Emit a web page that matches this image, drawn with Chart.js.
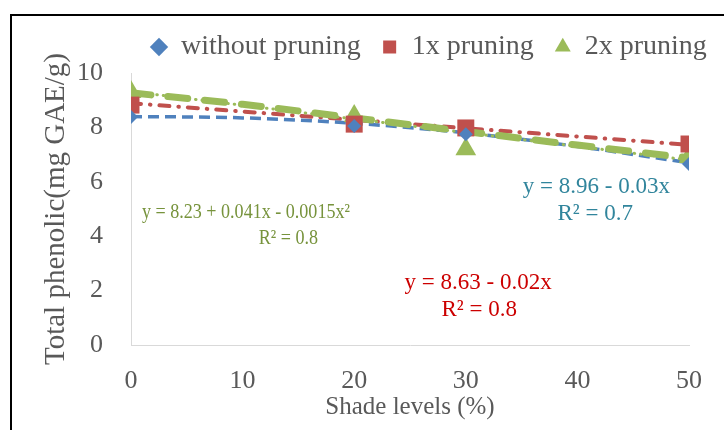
<!DOCTYPE html>
<html>
<head>
<meta charset="utf-8">
<script src="https://cdn.jsdelivr.net/npm/chart.js@4/dist/chart.umd.min.js"></script>
<style>
  html, body { margin: 0; padding: 0; background: #fff; }
  #wrap { width: 724px; height: 430px; position: relative; }
</style>
</head>
<body>
<div id="wrap"><canvas id="chart"></canvas></div>
<script>
// shade levels (%) where samples were measured
const shadeLevels = [0, 20, 30, 50];
// total phenolic (mg GAE/g)
const withoutPruning = [8.38, 8.05, 7.75, 6.65];
const pruning1x = [8.82, 8.12, 7.98, 7.39];
const pruning2x = [9.3, 8.42, 7.2, 6.91];

// trend lines
const trendX = [0, 10, 20, 30, 40, 50];
const trendWithout = [8.4, 8.35, 8.15, 7.8, 7.3, 6.7];
const trend2xPoly = [9.27, 8.85, 8.35, 7.85, 7.35, 6.88];
const trendEnds = [0, 50];
const trend1x = [8.89, 7.36];
const trend2xLinear = [9.32, 6.8];

const xTicks = [0, 10, 20, 30, 40, 50];
const yTicks = [0, 2, 4, 6, 8, 10];

const eqGreen = ["y = 8.23 + 0.041x - 0.0015x²", "R² = 0.8"];
const eqTeal = ["y = 8.96 - 0.03x", "R² = 0.7"];
const eqRed = ["y = 8.63 - 0.02x", "R² = 0.8"];

(function () {
  "use strict";

  const SERIF = '"Liberation Serif", "Times New Roman", serif';
  const TEXT = "#595959";
  const BLUE = "#4F81BD", RED = "#C0504D", GREEN = "#9BBB59";

  function pts(xs, ys) {
    return xs.map((x, i) => ({ x, y: ys[i] }));
  }

  // equation labels, anchored in data space (x, y of each line's centre)
  const equations = [
    { lines: eqGreen, color: "#77933C", size: 21, squeeze: 0.86, at: [[10.3, 4.89], [14.1, 3.9]] },
    { lines: eqTeal, color: "#31859C", size: 23, squeeze: 1, at: [[41.7, 5.81], [41.6, 4.82]] },
    { lines: eqRed, color: "#CC0000", size: 23, squeeze: 1, at: [[31.1, 2.28], [31.2, 1.29]] }
  ];

  const framePlugin = {
    id: "frame",
    beforeDraw(chart) {
      const ctx = chart.ctx;
      ctx.save();
      ctx.strokeStyle = "#000";
      ctx.lineWidth = 2;
      ctx.beginPath();
      ctx.moveTo(11, chart.height);
      ctx.lineTo(11, 15);
      ctx.lineTo(chart.width, 15);
      ctx.stroke();
      ctx.restore();
    }
  };

  const legendPlace = {
    id: "legendPlace",
    beforeInit(chart) {
      const fit = chart.legend.fit;
      chart.legend.fit = function () {
        fit.call(this);
        this.height = 73;
      };
    },
    afterLayout(chart) {
      const lg = chart.legend;
      lg.left += 91; lg.right += 91;
      lg.top += 12; lg.bottom += 12;
    }
  };

  const equationPlugin = {
    id: "equations",
    afterDatasetsDraw(chart) {
      const ctx = chart.ctx;
      const sx = chart.scales.x, sy = chart.scales.y;
      equations.forEach(eq => {
        eq.lines.forEach((t, i) => {
          const px = sx.getPixelForValue(eq.at[i][0]);
          const py = sy.getPixelForValue(eq.at[i][1]);
          ctx.save();
          ctx.translate(px, py);
          ctx.scale(eq.squeeze, 1);
          ctx.fillStyle = eq.color;
          ctx.font = eq.size + "px " + SERIF;
          ctx.textAlign = "center";
          ctx.textBaseline = "middle";
          ctx.fillText(t, 0, 0);
          ctx.restore();
        });
      });
    }
  };

  function init() {
    const canvas = document.getElementById("chart");
    if (!canvas || typeof Chart === "undefined") return;

    new Chart(canvas, {
      type: "scatter",
      data: {
        datasets: [
          {
            label: "without pruning",
            data: pts(shadeLevels, withoutPruning),
            pointStyle: "rectRot",
            pointRadius: 7,
            backgroundColor: BLUE,
            borderColor: BLUE,
            borderWidth: 0,
            order: 0
          },
          {
            label: "1x pruning",
            data: pts(shadeLevels, pruning1x),
            pointStyle: "rect",
            pointRadius: 12,
            backgroundColor: RED,
            borderColor: RED,
            borderWidth: 0,
            order: 0
          },
          {
            label: "2x pruning",
            data: pts(shadeLevels, pruning2x),
            pointStyle: "triangle",
            pointRadius: 12,
            backgroundColor: GREEN,
            borderColor: GREEN,
            borderWidth: 0,
            order: 0
          },
          {
            label: "",
            data: pts(trendX, trendWithout),
            showLine: true,
            pointRadius: 0,
            borderColor: BLUE,
            borderWidth: 3.5,
            borderDash: [11, 6],
            cubicInterpolationMode: "monotone",
            order: 2
          },
          {
            label: "",
            data: pts(trendEnds, trend1x),
            showLine: true,
            pointRadius: 0,
            borderColor: RED,
            borderWidth: 4,
            borderCapStyle: "round",
            borderDash: [10, 9, 0.5, 9],
            order: 2
          },
          {
            label: "",
            data: pts(trendEnds, trend2xLinear),
            showLine: true,
            pointRadius: 0,
            borderColor: GREEN,
            borderWidth: 3,
            borderCapStyle: "round",
            borderDash: [0.5, 6],
            order: 1
          },
          {
            label: "",
            data: pts(trendX, trend2xPoly),
            showLine: true,
            pointRadius: 0,
            borderColor: GREEN,
            borderWidth: 7,
            borderCapStyle: "round",
            borderDash: [20, 17],
            cubicInterpolationMode: "monotone",
            order: 1
          }
        ]
      },
      options: {
        responsive: true,
        maintainAspectRatio: false,
        animation: false,
        layout: { padding: { left: 39, right: 35, top: 0, bottom: 8 } },
        plugins: {
          legend: {
            display: true,
            position: "top",
            align: "start",
            labels: {
              usePointStyle: true,
              boxWidth: 16,
              boxHeight: 13,
              padding: 21,
              color: TEXT,
              font: { family: SERIF, size: 28 },
              filter: item => item.text !== ""
            }
          },
          tooltip: { enabled: false }
        },
        scales: {
          x: {
            type: "linear",
            min: 0,
            max: 50,
            afterBuildTicks: s => { s.ticks = xTicks.map(v => ({ value: v })); },
            afterFit: s => { s.height = 77; },
            grid: { display: false, drawTicks: false },
            border: { display: true, color: "#D9D9D9", width: 1 },
            ticks: { color: TEXT, padding: 21, font: { family: SERIF, size: 26 } },
            title: {
              display: true,
              text: "Shade levels (%)",
              color: TEXT,
              padding: 0,
              font: { family: SERIF, size: 25 }
            }
          },
          y: {
            min: 0,
            max: 10,
            afterBuildTicks: s => { s.ticks = yTicks.map(v => ({ value: v })); },
            afterFit: s => { s.width = 92; },
            grid: { display: false, drawTicks: false },
            border: { display: true, color: "#D9D9D9", width: 1 },
            ticks: { color: TEXT, padding: 28, font: { family: SERIF, size: 26 } },
            title: {
              display: true,
              text: "Total phenolic(mg GAE/g)",
              color: TEXT,
              padding: 0,
              font: { family: SERIF, size: 29 }
            }
          }
        }
      },
      plugins: [framePlugin, legendPlace, equationPlugin]
    });
  }

  document.addEventListener("DOMContentLoaded", init);
})();
</script>
</body>
</html>
